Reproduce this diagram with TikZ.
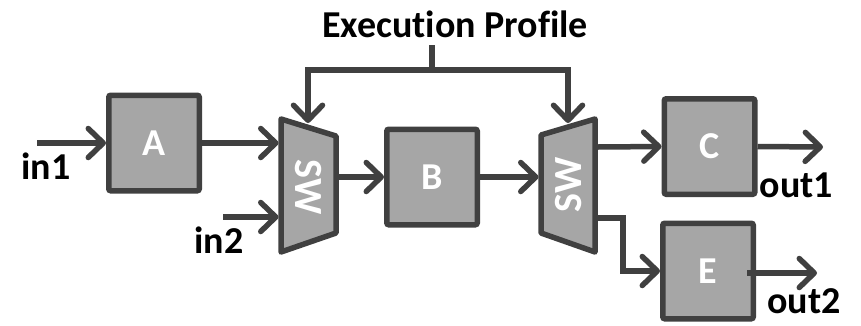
\documentclass[tikz,border=0pt]{standalone}
\usepackage{fontspec}
\setmainfont{Carlito}[Ligatures={NoCommon}]
\usetikzlibrary{arrows.meta}
\definecolor{edge}{HTML}{404040}
\definecolor{boxfill}{HTML}{A6A6A6}
\begin{document}
\begin{tikzpicture}[x=1pt,y=-1pt,
  every node/.style={inner sep=0pt, outer sep=0pt},
  blk/.style={draw=edge, fill=boxfill, line width=5.5pt, rounded corners=2pt,
    minimum width=90.5pt, minimum height=95.5pt, outer sep=2.75pt,
    text=white, font=\fontsize{38}{40}\selectfont\bfseries},
  lbl/.style={anchor=base, text=black, font=\fontsize{38}{40}\selectfont\bfseries},
  swtxt/.style={text=white, font=\fontsize{40}{42}\selectfont\bfseries},
  swshape/.style={draw=edge, fill=boxfill, line width=5.5pt, line join=round},
  arr/.style={draw=edge, line width=5.5pt,
    -{Straight Barb[length=15pt,width=29pt,round]}},
  wire/.style={draw=edge, line width=5.5pt}]
\useasboundingbox (0,0) rectangle (861,325);

% processing blocks
\node[blk] (A) at (154,143) {A};
\node[blk] (B) at (432,177) {B};
\node[blk] (C) at (709.5,146.5) {C};
\node[blk] (E) at (708,271) {E};

% switches
\path[swshape] (281,119) -- (336,136) -- (336,233) -- (281,252) -- cycle;
\node[swtxt, rotate=-90] (sw1) at (308,187) {SW};
\path[swshape] (541,135) -- (595,119) -- (595,252) -- (541,233) -- cycle;
\node[swtxt, rotate=90] (sw2) at (569,185) {SW};

% port coordinates on the switch borders
\coordinate (sw1a) at (278.5,143);
\coordinate (sw1i) at (278.5,217);
\coordinate (sw1o) at (338.5,177);
\coordinate (sw1t) at (308,123);
\coordinate (sw2i) at (538.5,177);
\coordinate (sw2c) at (597.5,147);
\coordinate (sw2e) at (597.5,218);
\coordinate (sw2t) at (568,123);
\coordinate (bend) at (623,218);

% labels
\node[lbl] (exec) at (455,37) {Execution Profile};
\node[lbl] (in1) at (46,179) {in1};
\node[lbl] (in2) at (219,253) {in2};
\node[lbl] (out1) at (796.5,197) {out1};
\node[lbl] (out2) at (804,313) {out2};

% free ends
\coordinate (src1) at (37,143);
\coordinate (src2) at (223,217);
\coordinate (dst1) at (823,147);
\coordinate (eo) at (747,273);
\coordinate (dst2) at (817,273);
\coordinate (stub) at (432,45);
\coordinate (join) at (432,70);

% data connectors
\draw[arr] (src1) -- (A.west);
\draw[arr] (A.east) -- (sw1a);
\draw[arr] (src2) -- (sw1i);
\draw[arr] (sw1o) -- (B.west);
\draw[arr] (B.east) -- (sw2i);
\draw[arr] (sw2c) -- (C.west);
\draw[arr] (sw2e) -- (bend) |- (E.west);
\draw[arr] (C.east) -- (dst1);
\draw[arr] (eo) -- (dst2);

% control connectors
\draw[wire] (stub) -- (join);
\draw[arr] (join) -| (sw1t);
\draw[arr] (join) -| (sw2t);
\end{tikzpicture}
\end{document}
